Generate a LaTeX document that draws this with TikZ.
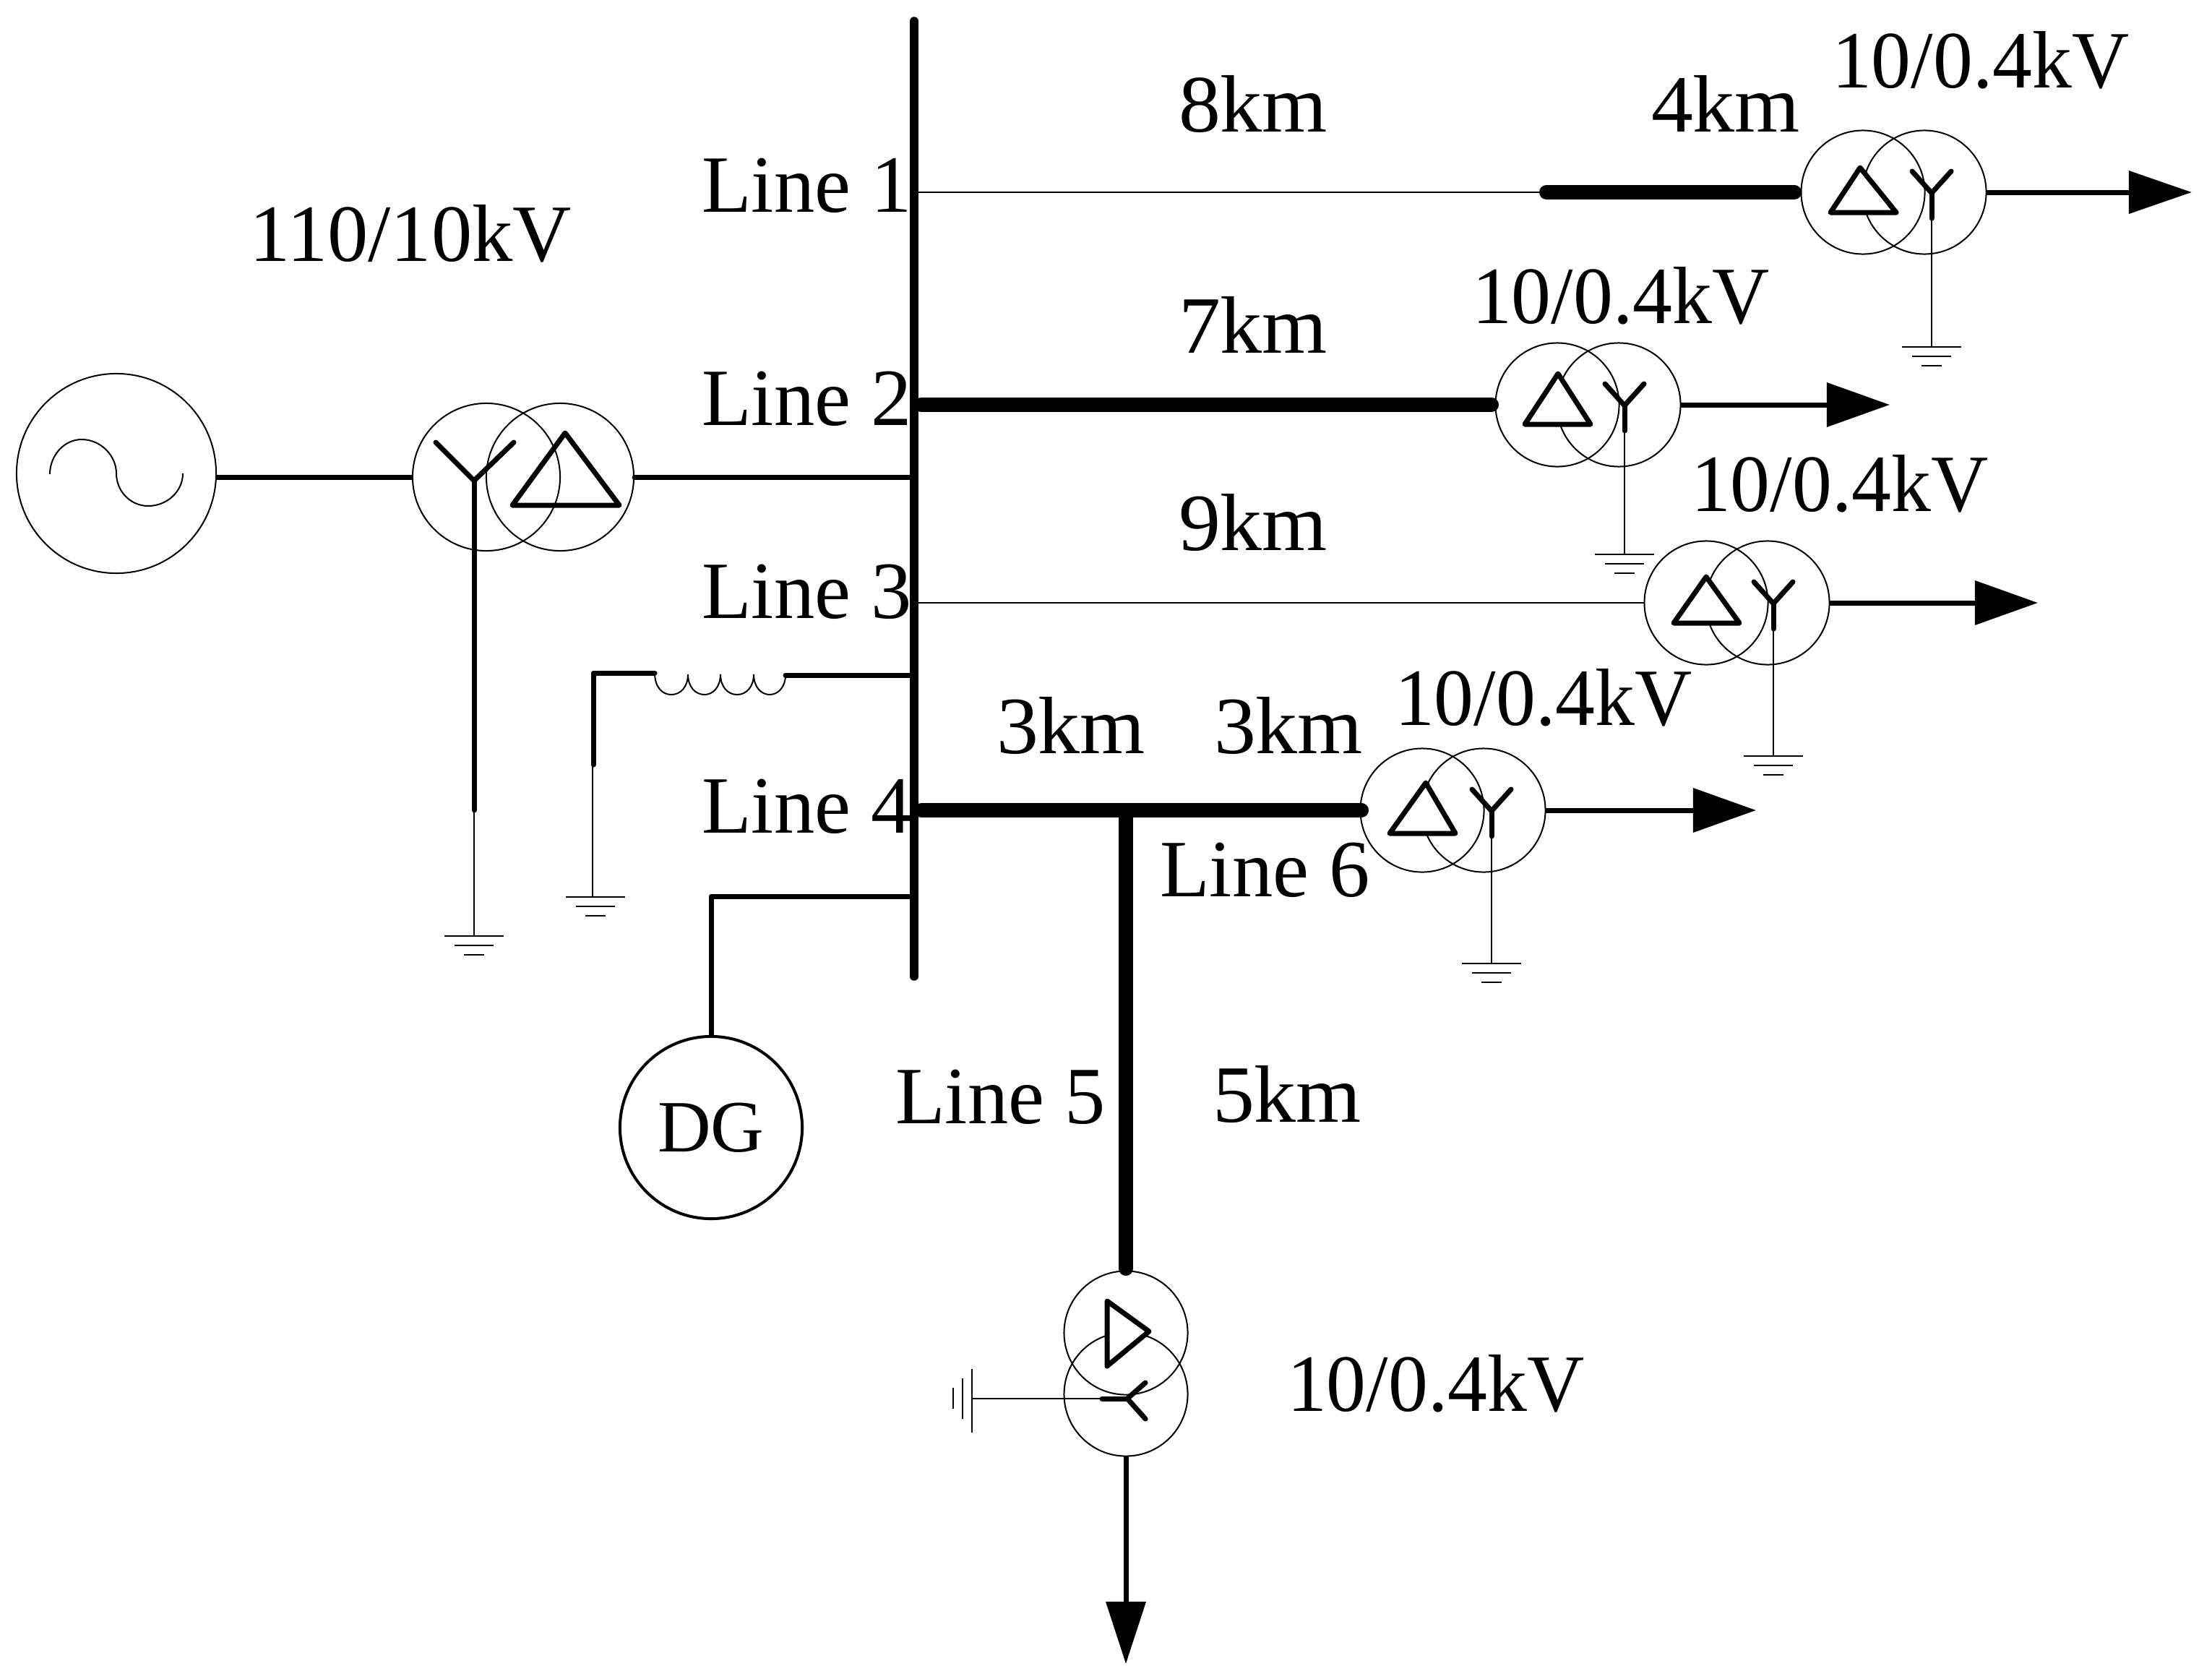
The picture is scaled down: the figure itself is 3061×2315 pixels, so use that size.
\documentclass[tikz,border=0pt]{standalone}
\usepackage{fontspec}
\setmainfont{Liberation Serif}
\newfontfamily\vfont[FakeStretch=0.975]{Liberation Serif}
\newfontfamily\kfont[FakeStretch=1.03]{Liberation Serif}
\usetikzlibrary{arrows.meta}
\tikzset{
  thinw/.style={line width=0.02cm},
  boldw/.style={line width=0.07cm,line cap=round,line join=round},
  heavy/.style={line width=0.20cm,line cap=round},
  ring/.style={circle,draw,thinw,inner sep=0pt,outer sep=0pt,minimum size=1.71cm},
  lab/.style={anchor=base west,inner sep=0pt,outer sep=0pt,font=\fontsize{32}{38}\selectfont},
  vlab/.style={anchor=base west,inner sep=0pt,outer sep=0pt,font=\vfont\fontsize{32}{38}\selectfont},
  klab/.style={anchor=base west,inner sep=0pt,outer sep=0pt,font=\kfont\fontsize{32}{38}\selectfont},
  feed/.style={line width=0.07cm},
}
% ground: x, y
\newcommand\gndh[2]{\draw[thinw] (#1-41,#2)--(#1+41,#2) (#1-27,#2+13)--(#1+27,#2+13) (#1-14,#2+26)--(#1+14,#2+26);}
% transformer: name, x of left winding, y, earth y, apex dx, apex dy, star dx, base dy
\newcommand\xfmr[8]{%
  \node[ring] (#1a) at (#2,#3) {};
  \node[ring] (#1b) at (#2+85,#3) {};
  \begin{scope}[shift={(#2,#3)}]
    \draw[boldw,fill=white] (#5,#6)--(46,#8)--(-45,#8)--cycle;
    \draw[boldw] (#7-27,-29)--(#7,1)--(#7+27,-29);
    \draw[boldw] (#7,1)--(#7,36);
    \draw[thinw] (#7,36)--(#7,#4-#3);
  \end{scope}
  \gndh{#2+#7}{#4}
}
\begin{document}
\begin{tikzpicture}[x=0.01cm,y=-0.01cm]
\fill[white] (0,0) rectangle (3061,2315);
\useasboundingbox (0,0) rectangle (3061,2315);

% busbar
\coordinate (bustop) at (1265,29);
\coordinate (busbot) at (1265,1351);
\draw[line width=0.115cm,line cap=round] (bustop)--(busbot);
\coordinate (b1) at (1265,266);
\coordinate (b2) at (1275,560);
\coordinate (b0) at (1265,660);
\coordinate (b3) at (1265,834);
\coordinate (br) at (1265,934);
\coordinate (b4) at (1275,1121);
\coordinate (bd) at (1265,1240);

% source
\node[circle,draw,thinw,inner sep=0pt,minimum size=2.76cm] (gen) at (161,655) {};
\draw[thinw] (69,656) .. controls (69,630) and (89,608) .. (113,608) .. controls (139,608) and (161,630) .. (161,655) .. controls (161,680) and (181,700) .. (205,700) .. controls (231,700) and (253,680) .. (253,655);

% main transformer
\node[circle,draw,thinw,inner sep=0pt,minimum size=2.04cm] (t0a) at (673,660) {};
\node[circle,draw,thinw,inner sep=0pt,minimum size=2.04cm] (t0b) at (775,660) {};
\coordinate (g0) at (299,660);
\draw[boldw,line cap=butt] (g0)--(t0a.west);
\draw[boldw] (t0b.east)--(b0);
\draw[boldw] (603,612)--(656,665)--(711,612);
\draw[boldw] (656,665)--(656,1121);
\draw[thinw] (656,1121)--(656,1295);
\gndh{656}{1295}
\draw[boldw] (782,599)--(857,699)--(709,699)--cycle;

% feeders
\xfmr{ta}{2578}{266}{480}{-4}{-34}{95}{28}
\xfmr{tb}{2155}{560}{767}{1}{-43}{93}{27}
\xfmr{tc}{2361}{834}{1046}{0}{-36}{93}{28}
\xfmr{td}{1968}{1121}{1333}{5}{-38}{96}{32}

\coordinate (j1) at (2140,266);
\coordinate (ea) at (2483,266);
\coordinate (eb) at (2064,560);
\coordinate (ed) at (1884,1121);
\draw[thinw] (b1)--(j1);
\draw[heavy] (j1)--(ea);
\draw[heavy] (b2)--(eb);
\draw[thinw] (b3)--(tca.west);
\draw[heavy] (b4)--(ed);

\coordinate (ha) at (3033,266);
\coordinate (hb) at (2615,560);
\coordinate (hc) at (2820,834);
\coordinate (hd) at (2430,1121);
\draw[feed,-{Triangle[length=0.87cm,width=0.58cm]}] (tab.east)--(ha);
\draw[feed,-{Triangle[length=0.87cm,width=0.60cm]}] (tbb.east)--(hb);
\draw[feed,-{Triangle[length=0.87cm,width=0.60cm]}] (tcb.east)--(hc);
\draw[feed,-{Triangle[length=0.87cm,width=0.60cm]}] (tdb.east)--(hd);

% line 5 and its transformer
\coordinate (j5) at (1558,1121);
\coordinate (ee) at (1558,1755);
\node[ring] (tea) at (1558,1844) {};
\node[ring] (teb) at (1558,1929) {};
\draw[heavy] (j5)--(ee);
\draw[boldw,fill=white] (1532,1800)--(1590,1842)--(1532,1890)--cycle;
\draw[boldw] (1585,1913)--(1560,1935)--(1585,1963);
\draw[boldw] (1560,1935)--(1525,1935);
\draw[thinw] (1525,1935)--(1345,1935);
\draw[thinw] (1345,1894)--(1345,1982) (1332,1907)--(1332,1963) (1319,1920)--(1319,1949);
\coordinate (he) at (1558,2302);
\draw[feed,-{Triangle[length=0.86cm,width=0.54cm]}] (teb.south)--(he);

% reactor
\coordinate (ra) at (906,931);
\coordinate (rb) at (1087,934);
\coordinate (rc) at (821,931);
\coordinate (rd) at (821,1058);
\draw[boldw] (rd)--(rc)--(ra);
\draw[thinw] (820,1058)--(820,1241);
\gndh{824}{1241}
\draw[thinw] (ra) .. controls (906,950) and (916,961) .. (929,961) .. controls (942,961) and (952,950) .. (952,933)
  .. controls (952,950) and (962,961) .. (975,961) .. controls (987,961) and (997,950) .. (997,933)
  .. controls (997,950) and (1007,961) .. (1020,961) .. controls (1033,961) and (1043,950) .. (1043,933)
  .. controls (1043,950) and (1053,961) .. (1065,961) .. controls (1077,961) and (1087,950) .. (rb);
\draw[boldw] (rb)--(br);

% DG
\node[circle,draw,line width=0.04cm,inner sep=0pt,minimum size=2.52cm,font=\fontsize{29}{34}\selectfont] (dg) at (984,1560) {DG};
\coordinate (dc) at (dg.north |- bd);
\draw[boldw] (bd)--(dc)--(dg.north);

% labels
\node[lab] (l0) at (345,361) {110/10kV};
\node[lab] (l1) at (971,293) {Line 1};
\node[lab] (l2) at (971,588) {Line 2};
\node[lab] (l3) at (971,855) {Line 3};
\node[lab] (l4) at (971,1152) {Line 4};
\node[lab] (l5) at (1239,1554) {Line 5};
\node[lab] (l6) at (1605,1240) {Line 6};
\node[klab] (k8) at (1631,182) {8km};
\node[klab] (k4) at (2285,182) {4km};
\node[klab] (k7) at (1631,488) {7km};
\node[klab] (k9) at (1631,761) {9km};
\node[klab] (k3a) at (1379,1042) {3km};
\node[klab] (k3b) at (1680,1042) {3km};
\node[klab] (k5) at (1678,1552) {5km};
\node[vlab] (va) at (2535,121) {10/0.4kV};
\node[vlab] (vb) at (2037,447) {10/0.4kV};
\node[vlab] (vc) at (2340,707) {10/0.4kV};
\node[vlab] (vd) at (1930,1003) {10/0.4kV};
\node[vlab] (ve) at (1781,1952) {10/0.4kV};
\end{tikzpicture}
\end{document}
